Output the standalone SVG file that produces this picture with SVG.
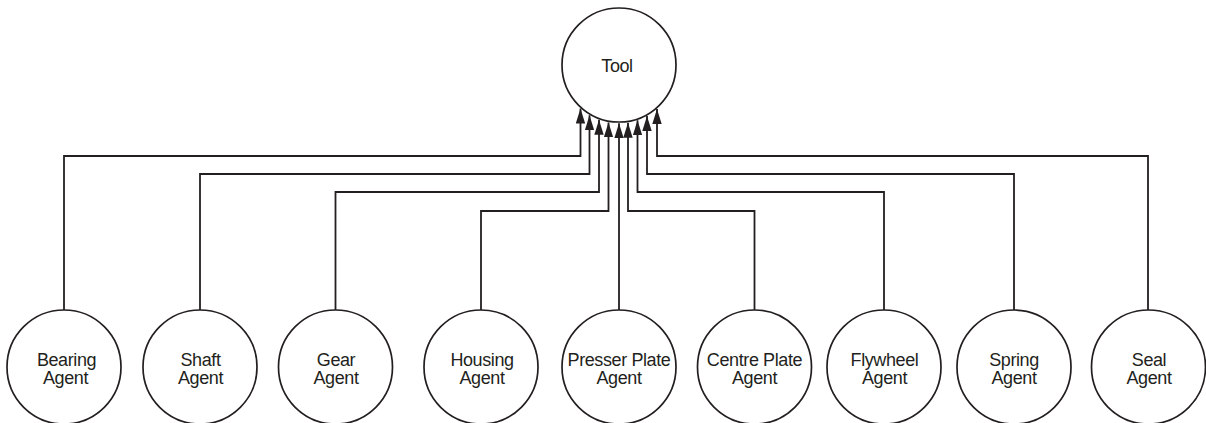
<svg xmlns="http://www.w3.org/2000/svg" width="1206" height="423" viewBox="0 0 1206 423">
  <style>
    .node circle { fill: #ffffff; stroke: #231f20; stroke-width: 1.7; }
    .node text { font-family: "Liberation Sans", Arial, sans-serif; font-size: 18px; letter-spacing: -0.4px; fill: #231f20; text-anchor: middle; }
    .link { fill: none; stroke: #231f20; stroke-width: 1.8; marker-end: url(#arrow); }
  </style>
  <defs>
    <marker id="arrow" markerUnits="userSpaceOnUse" markerWidth="15" markerHeight="10" viewBox="0 0 15 10" refX="15" refY="5" orient="auto">
      <path d="M0,0.3 L15,5 L0,9.7 z" fill="#231f20"/>
    </marker>
  </defs>

  <!-- connectors: each agent feeds the tool -->
  <g id="connectors">
    <path class="link" d="M64 310 V156 H580.5 V108.5"/>
    <path class="link" d="M200 310 V174 H589.5 V115.3"/>
    <path class="link" d="M335.5 310 V192 H599 V119.8"/>
    <path class="link" d="M481 310 V211 H608.5 V122.4"/>
    <path class="link" d="M619 310 V123.3"/>
    <path class="link" d="M754.5 310 V211 H628 V122.7"/>
    <path class="link" d="M884 310 V192 H637.5 V120.3"/>
    <path class="link" d="M1014 310 V174 H647 V116"/>
    <path class="link" d="M1148 310 V156 H657 V109"/>
  </g>

  <!-- tool node -->
  <g id="tool" class="node">
    <circle cx="619" cy="65" r="57"/>
    <text x="617" y="71.5">Tool</text>
  </g>

  <!-- agent nodes -->
  <g id="bearing-agent" class="node">
    <circle cx="64" cy="367" r="57"/>
    <text x="66.5" y="366">Bearing</text>
    <text x="65.5" y="384">Agent</text>
  </g>
  <g id="shaft-agent" class="node">
    <circle cx="200" cy="367" r="57"/>
    <text x="200.5" y="366">Shaft</text>
    <text x="200.5" y="384">Agent</text>
  </g>
  <g id="gear-agent" class="node">
    <circle cx="335.5" cy="367" r="57"/>
    <text x="336" y="366">Gear</text>
    <text x="336" y="384">Agent</text>
  </g>
  <g id="housing-agent" class="node">
    <circle cx="481" cy="367" r="57"/>
    <text x="482" y="366">Housing</text>
    <text x="482" y="384">Agent</text>
  </g>
  <g id="presser-plate-agent" class="node">
    <circle cx="619" cy="367" r="57"/>
    <text x="619" y="366">Presser Plate</text>
    <text x="619" y="384">Agent</text>
  </g>
  <g id="centre-plate-agent" class="node">
    <circle cx="754.5" cy="367" r="57"/>
    <text x="754.5" y="366">Centre Plate</text>
    <text x="754.5" y="384">Agent</text>
  </g>
  <g id="flywheel-agent" class="node">
    <circle cx="884" cy="367" r="57"/>
    <text x="884.5" y="366">Flywheel</text>
    <text x="884.5" y="384">Agent</text>
  </g>
  <g id="spring-agent" class="node">
    <circle cx="1014" cy="367" r="57"/>
    <text x="1014" y="366">Spring</text>
    <text x="1014" y="384">Agent</text>
  </g>
  <g id="seal-agent" class="node">
    <circle cx="1148.5" cy="367" r="57"/>
    <text x="1149" y="366">Seal</text>
    <text x="1149" y="384">Agent</text>
  </g>
</svg>
